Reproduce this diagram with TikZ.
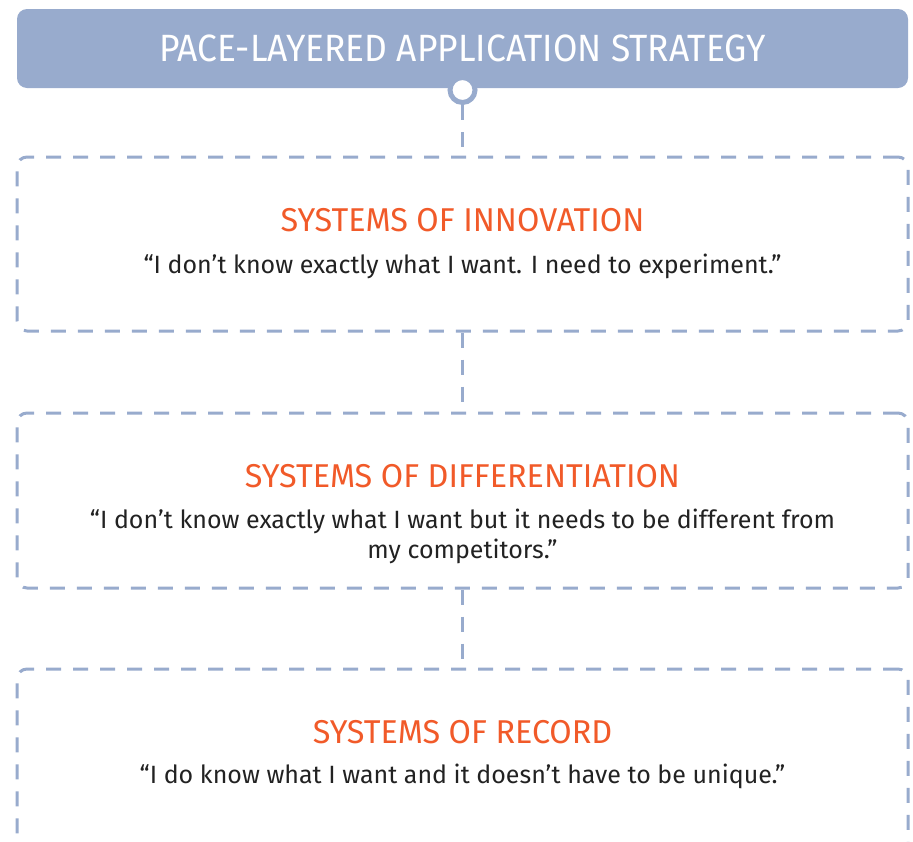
\documentclass[tikz,border=0pt]{standalone}
\usepackage{fontspec}
\setmainfont{Fira Sans}
\newfontfamily\headfont{Fira Sans}[FakeStretch=0.93]
\newfontfamily\layerfont{Fira Sans}[FakeStretch=0.98]
\definecolor{paceblue}{HTML}{98ABCD}
\definecolor{paceorange}{HTML}{F15A29}
\definecolor{quotegray}{HTML}{222222}

\begin{document}
\begin{tikzpicture}[x=1pt,y=-1pt]
    \tikzset{
        layer/.style={draw=paceblue, line width=3pt, dash pattern=on 15pt off 12pt,
            rounded corners=10pt, minimum width=891pt},
        layertitle/.style={text=paceorange, font=\layerfont\fontsize{33}{33}\selectfont},
        layerquote/.style={text=quotegray, font=\fontsize{25}{30}\selectfont, align=center},
        link/.style={draw=paceblue, line width=3pt, dash pattern=on 15pt off 12pt},
    }
    \useasboundingbox (0,0) rectangle (913,841);

    % header bar with the ring hanging below it
    \node[fill=paceblue, rounded corners=10pt, minimum width=891pt, minimum height=79pt,
        text=white, font=\headfont\fontsize{38}{38}\selectfont] (header) at (462.5,48.5)
        {PACE-LAYERED APPLICATION STRATEGY};
    \node[circle, draw=paceblue, fill=white, line width=5pt, minimum size=25pt, inner sep=0pt]
        (knob) at (462.5,90) {};

    % the three layers
    \node[layer, minimum height=174pt] (inno) at (462.5,244) {};
    \node[layer, minimum height=175pt] (diff) at (462.5,500.5) {};
    \node[layer, minimum height=200pt] (record) at (462.5,769) {};

    \node[layertitle] (innotitle) at (462.5,220) {SYSTEMS OF INNOVATION};
    \node[layerquote] (innoquote) at (462.5,266)
        {“I don’t know exactly what I want. I need to experiment.”};

    \node[layertitle] (difftitle) at (462.5,476) {SYSTEMS OF DIFFERENTIATION};
    \node[layerquote] (diffquote) at (462.5,536)
        {“I don’t know exactly what I want but it needs to be different from\\my competitors.”};

    \node[layertitle] (recordtitle) at (462.5,732) {SYSTEMS OF RECORD};
    \node[layerquote] (recordquote) at (462.5,776)
        {“I do know what I want and it doesn’t have to be unique.”};

    \foreach \a/\b in {knob/inno, inno/diff, diff/record}
        \draw[link] (\a.south) -- (\b.north);
\end{tikzpicture}
\end{document}
